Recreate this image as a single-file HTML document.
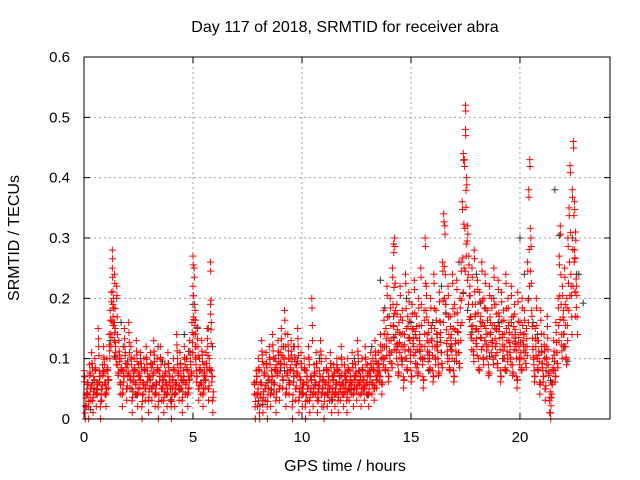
<!DOCTYPE html>
<html><head><meta charset="utf-8"><style>
body{margin:0;background:#fff;}
svg{display:block;font-family:"Liberation Sans",sans-serif;}
</style></head><body>
<svg id="chart" width="640" height="480" viewBox="0 0 640 480">
<text x="345" y="32" font-size="16" text-anchor="middle">Day 117 of 2018, SRMTID for receiver abra</text>
<text x="345" y="471" font-size="16" text-anchor="middle">GPS time / hours</text>
<text transform="translate(19,238) rotate(-90)" font-size="16" text-anchor="middle">SRMTID / TECUs</text>
<g id="grid"></g><g id="marks"></g><g id="axes"></g>
</svg>
<script>
const xTicks=[0,5,10,15,20];
const yTicks=[0,0.1,0.2,0.3,0.4,0.5,0.6];
const yTickLabels=["0","0.1","0.2","0.3","0.4","0.5","0.6"];
const blackT=[0.1,0.4,0.9,1.2,1.5,1.8,2.2,2.6,3.0,3.4,3.8,4.2,4.6,5.0,5.3,5.7,8.0,8.4,8.8,9.2,9.6,10.0,10.4,10.8,11.2,11.6,12.0,12.4,12.8,13.2,13.6,14.0,14.4,14.8,15.2,15.6,16.0,16.4,16.8,17.2,17.6,18.0,18.4,18.8,19.2,19.6,20.0,20.4,20.8,21.2,21.6,22.0,22.4,22.7];
const blackV=[0.02,0.06,0.08,0.13,0.2,0.12,0.05,0.1,0.07,0.12,0.04,0.06,0.14,0.19,0.08,0.15,0.03,0.06,0.1,0.08,0.12,0.05,0.07,0.1,0.04,0.09,0.06,0.1,0.05,0.12,0.23,0.17,0.12,0.2,0.14,0.1,0.16,0.22,0.12,0.26,0.18,0.24,0.13,0.2,0.1,0.16,0.3,0.2,0.14,0.08,0.38,0.12,0.3,0.24];
const redT=[0.0,0.05,0.1,0.15,0.2,0.25,0.3,0.35,0.4,0.45,0.5,0.55,0.6,0.65,0.7,0.75,0.8,0.85,0.9,0.95,1.0,1.05,1.1,1.15,1.2,1.25,1.3,1.3,1.35,1.4,1.4,1.45,1.5,1.55,1.6,1.65,1.7,1.75,1.8,1.85,1.9,1.95,2.0,2.05,2.1,2.15,2.2,2.25,2.3,2.35,2.4,2.45,2.5,2.55,2.6,2.65,2.7,2.75,2.8,2.85,2.9,2.95,3.0,3.05,3.1,3.15,3.2,3.25,3.3,3.35,3.4,3.45,3.5,3.55,3.6,3.65,3.7,3.75,3.8,3.85,3.9,3.95,4.0,4.05,4.1,4.15,4.2,4.25,4.3,4.35,4.4,4.45,4.5,4.55,4.6,4.65,4.7,4.75,4.8,4.85,4.9,4.95,5.0,5.0,5.05,5.1,5.1,5.15,5.2,5.25,5.3,5.35,5.4,5.45,5.5,5.55,5.6,5.65,5.7,5.75,5.8,5.8,5.85,5.9,
7.8,7.85,7.9,7.95,8.0,8.05,8.1,8.15,8.2,8.25,8.3,8.35,8.4,8.45,8.5,8.55,8.6,8.65,8.7,8.75,8.8,8.85,8.9,8.95,9.0,9.05,9.1,9.15,9.2,9.25,9.3,9.35,9.4,9.45,9.5,9.55,9.6,9.65,9.7,9.75,9.8,9.85,9.9,9.95,10.0,10.05,10.1,10.15,10.2,10.25,10.3,10.35,10.4,10.45,10.5,10.55,10.6,10.65,10.7,10.75,10.8,10.85,10.9,10.95,11.0,11.05,11.1,11.15,11.2,11.25,11.3,11.35,11.4,11.45,11.5,11.55,11.6,11.65,11.7,11.75,11.8,11.85,11.9,11.95,12.0,12.05,12.1,12.15,12.2,12.25,12.3,12.35,12.4,12.45,12.5,12.55,12.6,12.65,12.7,12.75,12.8,12.85,12.9,12.95,13.0,13.05,13.1,13.15,13.2,13.25,13.3,13.35,13.4,13.45,
13.5,13.55,13.6,13.65,13.7,13.75,13.8,13.85,13.9,13.95,14.0,14.05,14.1,14.15,14.2,14.2,14.25,14.3,14.35,14.4,14.45,14.5,14.55,14.6,14.65,14.7,14.75,14.8,14.85,14.9,14.95,15.0,15.05,15.1,15.15,15.2,15.25,15.3,15.35,15.4,15.45,15.5,15.55,15.6,15.65,15.7,15.75,15.8,15.85,15.9,15.95,16.0,16.05,16.1,16.15,16.2,16.25,16.3,16.35,16.4,16.45,16.5,16.55,16.6,16.65,16.7,16.75,16.8,16.85,16.9,16.95,17.0,17.05,17.1,17.15,17.2,17.25,17.3,17.35,17.4,17.45,17.5,17.5,17.55,17.6,17.65,17.7,17.75,17.8,17.85,17.9,17.95,18.0,18.05,18.1,18.15,18.2,18.25,18.3,18.35,18.4,18.45,18.5,18.55,18.6,18.65,18.7,18.75,18.8,18.85,18.9,18.95,19.0,19.05,19.1,19.15,19.2,19.25,19.3,19.35,19.4,19.45,19.5,19.55,19.6,19.65,19.7,19.75,19.8,19.85,19.9,19.95,20.0,20.05,20.1,20.15,20.2,20.25,20.3,20.35,20.4,20.45,20.5,20.55,20.6,20.65,20.7,20.75,20.8,20.85,20.9,20.95,21.0,21.05,21.1,21.15,21.2,21.25,21.3,21.35,21.4,21.45,21.5,21.55,21.6,21.65,21.7,21.75,21.8,21.85,21.9,21.95,22.0,22.05,22.1,22.15,22.2,22.25,22.3,22.35,22.4,22.45,22.5,22.5,22.55,22.6,22.6,22.65,22.7,22.75,22.8];
const redV=[0.08,0.01,0.04,0.06,0.02,0.09,0.05,0.11,0.03,0.07,0.1,0.04,0.06,0.15,0.08,0.02,0.05,0.09,0.12,0.06,0.04,0.1,0.07,0.14,0.18,0.21,0.25,0.28,0.2,0.24,0.16,0.12,0.22,0.09,0.13,0.06,0.1,0.04,0.08,0.15,0.11,0.05,0.09,0.16,0.07,0.12,0.03,0.08,0.1,0.06,0.13,0.04,0.09,0.07,0.11,0.02,0.06,0.1,0.05,0.12,0.08,0.03,0.07,0.11,0.05,0.09,0.13,0.04,0.06,0.1,0.02,0.08,0.12,0.05,0.07,0.03,0.09,0.06,0.04,0.11,0.08,0.05,0.02,0.07,0.1,0.04,0.06,0.14,0.09,0.05,0.11,0.07,0.03,0.08,0.12,0.06,0.1,0.04,0.07,0.13,0.09,0.16,0.22,0.27,0.25,0.18,0.12,0.08,0.15,0.05,0.1,0.06,0.13,0.04,0.09,0.07,0.11,0.15,0.05,0.1,0.19,0.26,0.08,0.03,0.06,
0.02,0.08,0.04,0.1,0.01,0.06,0.13,0.03,0.09,0.05,0.11,0.02,0.07,0.12,0.04,0.08,0.14,0.06,0.1,0.03,0.09,0.13,0.05,0.11,0.15,0.07,0.12,0.18,0.04,0.09,0.14,0.06,0.1,0.13,0.02,0.08,0.12,0.05,0.09,0.15,0.03,0.07,0.11,0.04,0.06,0.1,0.02,0.08,0.05,0.12,0.03,0.07,0.2,0.04,0.09,0.06,0.11,0.03,0.05,0.08,0.13,0.04,0.07,0.02,0.06,0.1,0.04,0.08,0.05,0.11,0.03,0.07,0.09,0.04,0.06,0.1,0.03,0.08,0.05,0.12,0.06,0.04,0.09,0.07,0.03,0.1,0.05,0.08,0.06,0.11,0.04,0.07,0.09,0.05,0.13,0.06,0.08,0.04,0.1,0.07,0.05,0.12,0.06,0.09,0.04,0.08,0.11,0.06,0.1,0.05,0.13,0.07,0.09,0.11,
0.08,0.14,0.06,0.12,0.18,0.1,0.15,0.22,0.08,0.13,0.2,0.11,0.25,0.17,0.29,0.3,0.14,0.19,0.09,0.16,0.22,0.12,0.18,0.07,0.14,0.24,0.1,0.17,0.21,0.13,0.08,0.19,0.15,0.23,0.11,0.17,0.09,0.2,0.14,0.25,0.12,0.07,0.18,0.3,0.22,0.13,0.16,0.1,0.2,0.15,0.08,0.24,0.12,0.18,0.14,0.09,0.21,0.16,0.11,0.26,0.34,0.32,0.19,0.13,0.22,0.1,0.17,0.14,0.24,0.08,0.19,0.13,0.23,0.16,0.11,0.2,0.26,0.36,0.44,0.43,0.48,0.52,0.4,0.32,0.27,0.22,0.17,0.25,0.13,0.28,0.19,0.15,0.23,0.1,0.21,0.17,0.26,0.12,0.2,0.24,0.14,0.18,0.09,0.22,0.16,0.2,0.12,0.25,0.15,0.19,0.11,0.23,0.17,0.08,0.21,0.14,0.18,0.1,0.24,0.13,0.2,0.16,0.12,0.22,0.09,0.17,0.19,0.14,0.07,0.21,0.12,0.16,0.1,0.2,0.14,0.18,0.11,0.15,0.26,0.38,0.43,0.3,0.17,0.12,0.08,0.15,0.2,0.1,0.13,0.06,0.18,0.11,0.08,0.14,0.05,0.12,0.17,0.09,0.03,0.01,0.06,0.1,0.13,0.08,0.16,0.11,0.2,0.27,0.32,0.14,0.22,0.18,0.25,0.12,0.2,0.3,0.35,0.42,0.22,0.38,0.46,0.28,0.36,0.31,0.22];
const X0=84,X1=610,Y0=419,Y1=57,XMAX=24.13,YMAX=0.6;
function xs(t){return X0+(X1-X0)*t/XMAX;}
function ys(v){return Y0-(Y0-Y1)*v/YMAX;}
const NS="http://www.w3.org/2000/svg";
function mk(tag,attrs,parent){const e=document.createElementNS(NS,tag);for(const k in attrs)e.setAttribute(k,attrs[k]);parent.appendChild(e);return e;}
const grid=document.getElementById('grid'),axes=document.getElementById('axes'),marks=document.getElementById('marks');
xTicks.forEach(t=>{const x=xs(t);
 if(t>0){const g=mk('line',{x1:x,x2:x,y1:Y1,y2:Y0,stroke:'#a0a0a0','stroke-dasharray':'2,3'},grid);
 
 }
 const tk=mk('path',{d:`M${x},${Y0}v-6M${x},${Y1}v6`,stroke:'#000'},axes);
 
 
 const l=mk('text',{x:x,y:Y0+23,'font-size':15,'text-anchor':'middle'},axes);l.textContent=t;
 
 });
yTicks.forEach((v,i)=>{const y=ys(v);
 if(v>0&&v<YMAX){const g=mk('line',{x1:X0,x2:X1,y1:y,y2:y,stroke:'#a0a0a0','stroke-dasharray':'2,3'},grid);
 
 }
 const tk=mk('path',{d:`M${X0},${y}h6M${X1},${y}h-6`,stroke:'#000'},axes);
 
 
 const l=mk('text',{x:X0-14,y:y+5,'font-size':15,'text-anchor':'end'},axes);l.textContent=yTickLabels[i];
 
 });
const fr=mk('rect',{x:X0,y:Y1,width:X1-X0,height:Y0-Y1,fill:'none',stroke:'#000'},axes);


function plus(t,v,c){const x=xs(t),y=ys(v);
 const p=mk('path',{d:`M${x-3.5},${y}h7M${x},${y-3.5}v7`,stroke:c,'stroke-width':1,fill:'none'},marks);return p;}
blackT.forEach((t,i)=>{const p=plus(t,blackV[i],'#333');
 
 
 const p2=plus(t+0.2,blackV[i]*0.8,'#333');
 
 });
redT.forEach((t,i)=>{const p=plus(t,redV[i],'#f00');
 
 
 const p2=plus(t+0.025,Math.max(0,redV[i]*0.7+0.015),'#f00');
 
 
 const p3=plus(t+0.012,Math.max(0,redV[i]*1.02-0.02),'#f00');
 
 
 const p4=plus(t+0.037,Math.max(0,redV[i]*0.5+0.03),'#f00');
 
 });
</script>
</body></html>
